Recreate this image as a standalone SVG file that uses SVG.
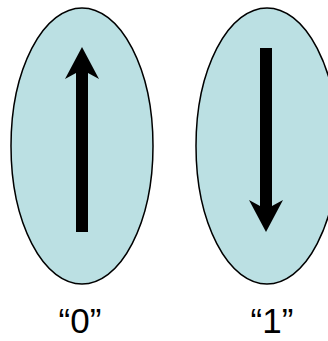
<svg xmlns="http://www.w3.org/2000/svg" width="328" height="341" viewBox="0 0 328 341">
<style>
.cell{fill:#bbe0e3;stroke:#000;stroke-width:1.5}
.arr{fill:#000}
.lbl{font-family:"Liberation Sans",Arial,sans-serif;font-size:35px;fill:#000;text-anchor:middle}
</style>
<rect width="328" height="341" fill="#fff"/>
<g id="node0">
<ellipse class="cell" cx="82" cy="146" rx="71" ry="138"/>
<polygon class="arr" points="82,47 99,79 88,73 88,232 76,232 76,73 65,79"/>
<text class="lbl" x="80" y="333">“0”</text>
</g>
<g id="node1">
<ellipse class="cell" cx="267" cy="146" rx="71" ry="138"/>
<polygon class="arr" points="266,232 283,200 272,206 272,48 260,48 260,206 249,200"/>
<text class="lbl" x="272" y="333">“1”</text>
</g>
<g id="connectors"></g>
</svg>
